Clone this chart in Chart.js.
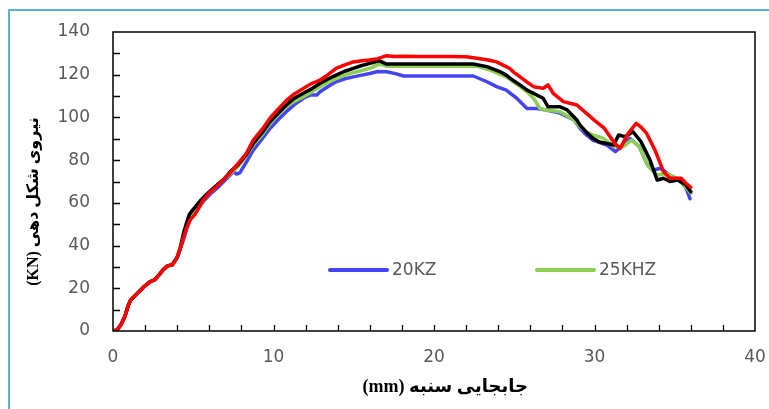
<!DOCTYPE html>
<html>
<head>
<meta charset="utf-8">
<script src="https://cdn.jsdelivr.net/npm/chart.js@4.4.1/dist/chart.umd.min.js"></script>
<style>
    html, body { margin: 0; padding: 0; background: #fff; }
    #wrap { position: relative; width: 769px; height: 409px; overflow: hidden; }
    #frame { position: absolute; left: 8px; top: 9px; width: 900px; height: 600px; border: 2px solid #5cb3d3; }
    #chart { position: absolute; left: 0; top: 0; }
</style>
</head>
<body>
<div id="wrap">
    <div id="frame"></div>
    <canvas id="chart" width="769" height="409"></canvas>
</div>
<script>
// 曲線データ [変位 mm, 荷重 KN]
const blueLabel = '20KZ';
const greenLabel = '25KHZ';
const blackLabel = 'S3';
const redLabel = 'S4';

const bluePoints = [
    [0,0],[0.25,0.5],[0.5,3],[0.75,7],[0.95,12],[1.1,14.5],[1.5,17.5],[1.9,20.5],[2.3,23],[2.6,24],
    [2.9,26.5],[3.1,28.5],[3.4,30.5],[3.7,31],[4.0,34.5],[4.2,38.5],[4.4,43],[4.6,48],[4.8,52],[5.1,55],
    [5.6,60.5],[6.05,64],[6.5,67],[6.9,70],[7.3,73],[7.5,74.6],[7.7,73.5],[7.9,74],[8.3,79],[8.74,84.7],
    [9.3,90],[9.78,94.8],[10.3,99],[10.8,102.7],[11.3,106],[11.86,109],[12.3,110.5],[12.7,110.5],[12.9,112],[13.4,114.5],
    [13.9,116.7],[14.4,118],[14.97,119],[15.5,119.8],[16.0,120.6],[16.5,121.5],[17.05,121.4],[17.6,120.5],[18.1,119.4],[20,119.4],
    [22.45,119.4],[23.3,116.7],[23.9,114.4],[24.5,112.8],[25.15,109],[25.8,104.2],[26.4,104.2],[27.0,103.5],[27.85,102],[28.7,99],
    [29.1,94.9],[29.5,91.8],[29.9,89.4],[30.76,87.1],[31.3,84],[31.8,87.1],[32.2,90.2],[32.8,86.3],[33.25,78.5],[33.7,75.4],
    [34.1,76.2],[34.7,73],[35.3,70.7],[35.7,67],[35.95,62]
];

const greenPoints = [
    [0,0],[0.25,0.5],[0.5,3],[0.75,7],[0.95,12],[1.1,14.5],[1.5,17.5],[1.9,20.5],[2.3,23],[2.6,24],
    [2.9,26.5],[3.1,28.5],[3.4,30.5],[3.7,31],[4.0,34.5],[4.3,42],[4.6,49],[4.8,53],[5.1,56],[5.6,61.5],
    [6.05,65],[6.9,71],[7.3,73.5],[7.8,77],[8.3,82],[8.74,87],[9.3,92],[9.78,97],[10.3,101.5],[10.8,105],
    [11.3,107.5],[11.86,109.7],[12.4,112],[12.9,114.4],[13.4,116.5],[13.9,118.2],[14.4,119.7],[14.97,121],[15.5,122],[16.0,123],
    [16.6,125],[17.05,124],[18,124],[20,124],[22.66,124],[23.5,122.2],[24.5,119],[25.36,114.4],[25.8,112],[26.2,109],
    [26.6,104.2],[27.0,103.5],[27.85,102.7],[28.7,99],[29.1,95.6],[29.5,93.3],[29.9,91.8],[30.55,90.2],[31.2,86.3],[31.8,86.3],
    [32.3,89.4],[32.8,86.3],[33.35,77],[33.9,73],[34.5,73.8],[35.1,71.5],[35.7,67.3],[36.0,64.5]
];

const blackPoints = [
    [0,0],[0.25,0.5],[0.5,3],[0.75,7],[0.95,12],[1.1,14.5],[1.5,17.5],[1.9,20.5],[2.3,23],[2.6,24],
    [2.9,26.5],[3.1,28.5],[3.4,30.5],[3.7,31],[4.0,34.5],[4.2,39],[4.4,46],[4.6,51],[4.75,54.5],[5.0,57],
    [5.5,61.5],[6.05,65.5],[6.5,68.5],[6.9,71],[7.3,74.5],[7.8,78],[8.3,82.5],[8.74,87.8],[9.3,93],[9.78,98],
    [10.3,102],[10.8,105.8],[11.3,109],[11.86,111.3],[12.4,113.5],[12.9,116],[13.4,118],[13.9,119.8],[14.4,121.5],[14.97,123],
    [15.5,124.3],[16.0,125.3],[16.6,126.5],[17.05,125],[18,125],[20,125],[22.45,125],[23.3,123.8],[24.1,121.5],[24.5,119.8],
    [24.9,117.5],[25.4,115],[25.8,112.8],[26.4,110.5],[26.8,109],[27.1,105],[27.85,105],[28.3,103.5],[28.9,98.8],[29.1,96.4],
    [29.5,93],[29.9,90.2],[30.3,88.5],[30.76,87.8],[31.2,87.1],[31.5,91.8],[31.9,91],[32.4,93.3],[32.9,88.6],[33.46,80],
    [33.9,70.7],[34.3,71.5],[34.7,70],[35.2,70.7],[35.7,68.4],[36.0,65.2]
];

const redPoints = [
    [0,0],[0.25,0.5],[0.5,3],[0.75,7],[0.95,12],[1.1,14.5],[1.5,17.5],[1.9,20.5],[2.3,23],[2.6,24],
    [2.9,26.5],[3.1,28.5],[3.4,30.5],[3.7,31],[4.0,34.5],[4.2,39],[4.4,44],[4.6,48.5],[4.8,52],[5.1,54.5],
    [5.6,61],[6.05,65],[6.5,68],[6.9,71],[7.3,74],[7.8,78.5],[8.3,83],[8.74,89.4],[9.3,94.5],[9.78,99.6],
    [10.3,104],[10.8,108],[11.3,111],[11.86,113.6],[12.4,116],[12.9,117.5],[13.4,120],[13.9,123],[14.4,124.5],[14.97,126],
    [15.5,126.5],[16.0,126.9],[16.5,127.5],[17.05,128.9],[17.5,128.5],[18.1,128.7],[19.1,128.5],[20,128.5],[21,128.5],[22.0,128.4],
    [22.66,127.7],[23.3,127],[23.9,126],[24.3,124.5],[24.7,123],[25.0,121],[25.36,119],[25.8,116.5],[26.2,114.4],[26.8,113.6],
    [27.1,115.2],[27.43,111.3],[28.06,107.4],[28.9,105.8],[29.5,101.9],[30.1,98],[30.6,95],[30.97,91],[31.3,87.5],[31.6,85.5],
    [32.1,92.5],[32.6,97.2],[32.9,95.5],[33.25,92.5],[33.77,84.7],[34.3,74.6],[34.7,71.5],[35.0,71.5],[35.4,71.5],[35.7,69.1],
    [36.0,67.3]
];

const xTicks = { min: 0, max: 40, step: 10, minorStep: 2 };
const yTicks = { min: 0, max: 140, step: 20, minorStep: 10 };

// 軸タイトル（元図の位置に合わせて前後に空白を入れている）
const xTitle = '     (mm) جابجایی سنبه';
const yTitle = '(KN) نیروی شکل دهی          ';

const tickFont = { family: "'DejaVu Sans'", size: 17 };
const xTitleFont = { family: "'Liberation Serif', 'DejaVu Sans'", size: 18, weight: 'bold' };
const yTitleFont = { family: "'Liberation Serif', 'DejaVu Sans'", size: 16, weight: 'bold' };
const textColor = '#595959';

function toXY(points) {
    return points.map(p => ({ x: p[0], y: p[1] }));
}

// 枠と内向きの目盛り
const framePlugin = {
    id: 'frameTicks',
    afterDatasetsDraw(chart) {
        const { ctx, chartArea: a, scales } = chart;
        ctx.save();
        ctx.strokeStyle = '#000';
        ctx.lineWidth = 1.3;
        ctx.beginPath();
        for (let v = xTicks.minorStep; v < xTicks.max; v += xTicks.minorStep) {
            const px = Math.round(scales.x.getPixelForValue(v)) + 0.5;
            ctx.moveTo(px, a.bottom);
            ctx.lineTo(px, a.bottom - 6);
        }
        for (let v = yTicks.minorStep; v < yTicks.max; v += yTicks.minorStep) {
            const py = Math.round(scales.y.getPixelForValue(v)) + 0.5;
            ctx.moveTo(a.left, py);
            ctx.lineTo(a.left + 7, py);
        }
        ctx.stroke();
        ctx.lineWidth = 1.5;
        ctx.strokeRect(a.left, a.top, a.right - a.left, a.bottom - a.top);
        ctx.restore();
    }
};

// 凡例（2系列のみ表示）
const legendPlugin = {
    id: 'innerLegend',
    afterDraw(chart) {
        const { ctx, chartArea: a } = chart;
        const items = [
            { label: blueLabel, color: chart.data.datasets[3].borderColor, x: a.left + 217 },
            { label: greenLabel, color: chart.data.datasets[2].borderColor, x: a.left + 424 }
        ];
        const y = a.top + 238;
        ctx.save();
        ctx.font = '17px "DejaVu Sans"';
        ctx.textBaseline = 'middle';
        ctx.fillStyle = textColor;
        items.forEach(it => {
            ctx.strokeStyle = it.color;
            ctx.lineWidth = 4;
            ctx.lineCap = 'round';
            ctx.beginPath();
            ctx.moveTo(it.x, y);
            ctx.lineTo(it.x + 57, y);
            ctx.stroke();
            ctx.fillText(it.label, it.x + 62, y + 1);
        });
        ctx.restore();
    }
};

const ctx = document.getElementById('chart').getContext('2d');
const myChart = new Chart(ctx, {
    type: 'line',
    data: {
        datasets: [
            { label: redLabel, data: toXY(redPoints), borderColor: '#ff0000' },
            { label: blackLabel, data: toXY(blackPoints), borderColor: '#000000' },
            { label: greenLabel, data: toXY(greenPoints), borderColor: '#8dcf52' },
            { label: blueLabel, data: toXY(bluePoints), borderColor: '#4444f2' }
        ].map(d => Object.assign(d, {
            borderWidth: 3.5,
            pointRadius: 0,
            tension: 0,
            fill: false,
            borderJoinStyle: 'round',
            borderCapStyle: 'round'
        }))
    },
    options: {
        responsive: false,
        animation: false,
        layout: { padding: { top: 32, right: 14, left: 0, bottom: 0 } },
        scales: {
            x: {
                type: 'linear',
                min: xTicks.min,
                max: xTicks.max,
                ticks: { stepSize: xTicks.step, color: textColor, font: tickFont, padding: 16, maxRotation: 0 },
                grid: { display: false, drawTicks: false },
                border: { display: false },
                title: { display: true, text: xTitle, color: '#000', font: xTitleFont, padding: { top: 0, bottom: 11 } },
                afterFit: s => { s.height = 78; s.paddingLeft = 0; s.paddingRight = 0; }
            },
            y: {
                type: 'linear',
                min: yTicks.min,
                max: yTicks.max,
                ticks: { stepSize: yTicks.step, color: textColor, font: tickFont, padding: 23 },
                grid: { display: false, drawTicks: false },
                border: { display: false },
                title: { display: true, text: yTitle, color: '#000', font: yTitleFont, padding: { top: 24, bottom: 0 } },
                afterFit: s => { s.width = 113; s.paddingTop = 0; s.paddingBottom = 0; }
            }
        },
        plugins: {
            legend: { display: false },
            tooltip: { enabled: false }
        }
    },
    plugins: [framePlugin, legendPlugin]
});
</script>
</body>
</html>
